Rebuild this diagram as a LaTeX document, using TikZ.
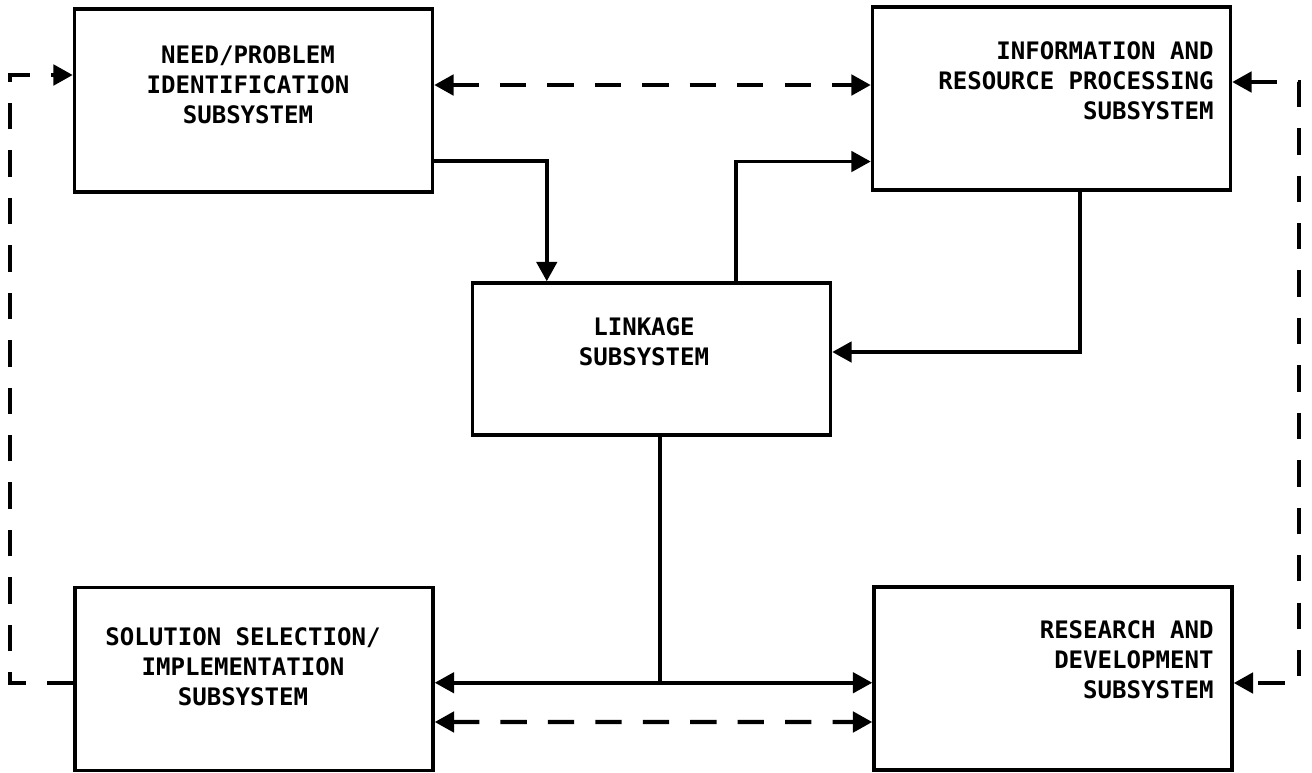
\documentclass[tikz,border=0pt]{standalone}
\usepackage{fontspec}
\newfontfamily\plotfont{DejaVu Sans Mono}
\usetikzlibrary{arrows.meta,calc}

\begin{document}
\begin{tikzpicture}[x=0.02cm,y=-0.02cm,
  >={Triangle[length=11pt,width=11.5pt]},
  sysbox/.style={draw, line width=2pt, minimum width=7.16cm, minimum height=3.66cm, inner sep=0pt},
  boxtext/.style={font=\plotfont\bfseries\fontsize{13.7}{17}\selectfont, inner sep=0pt},
  sline/.style={line width=2.2pt},
  dline/.style={line width=2.4pt, dash pattern=on 15pt off 12pt}]
\useasboundingbox (0,0) rectangle (1312,772);
% boxes
\node[sysbox] (need) at (253.5,100.5) {};
\node[sysbox] (info) at (1051.5,98.5) {};
\node[sysbox, minimum height=3.04cm] (link) at (651.5,359) {};
\node[sysbox] (sol) at (254,679) {};
\node[sysbox] (rnd) at (1053,678.5) {};
% labels
\node[boxtext, align=center] (needt) at (248,85) {NEED/PROBLEM\\IDENTIFICATION\\SUBSYSTEM};
\node[boxtext, align=right, anchor=east] (infot) at (1214,81) {INFORMATION AND\\RESOURCE PROCESSING\\SUBSYSTEM};
\node[boxtext, align=center] (linkt) at (644,342) {LINKAGE\\SUBSYSTEM};
\node[boxtext, align=center] (solt) at (243,667) {SOLUTION SELECTION/\\IMPLEMENTATION\\SUBSYSTEM};
\node[boxtext, align=right, anchor=east] (rndt) at (1214,660) {RESEARCH AND\\DEVELOPMENT\\SUBSYSTEM};
% solid links
\draw[sline, ->] ($(need.east)+(0,60.5)$) -| ($(link.north west)+(76,0)$);
\draw[sline, ->] ($(link.north west)+(265,0)$) |- ($(info.west)+(0,63)$);
\draw[sline, ->] ($(info.south west)+(209,0)$) |- ($(link.east)+(0,-7)$);
\draw[sline] ($(link.south)+(8.5,0)$) -- ++(0,246) coordinate (fork);
\draw[sline, ->] (fork) -- (fork -| sol.east);
\draw[sline, ->] (fork) -- (fork -| rnd.west);
% dashed links
\draw[dline, <->] ($(need.east)+(0,-15.5)$) -- ($(info.west)+(0,-13.5)$);
\draw[dline, <->] ($(sol.east)+(0,43)$) -- ($(rnd.west)+(0,43.5)$);
\draw[dline, ->] ($(sol.west)+(0,4)$) -- ++(-63,0) |- ($(need.west)+(0,-25.5)$);
\draw[dline, <->] ($(info.east)+(0,-16.5)$) -- ++(67,0) |- ($(rnd.east)+(0,4.5)$);
\end{tikzpicture}
\end{document}
